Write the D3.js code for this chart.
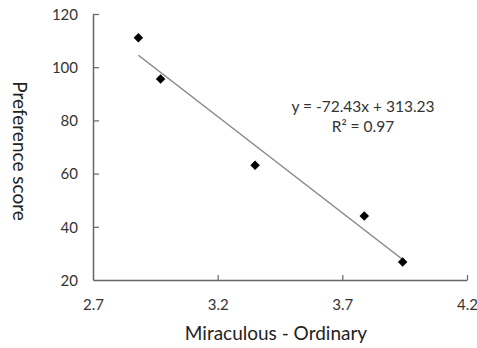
<!DOCTYPE html>
<html lang="en">
<head>
<meta charset="UTF-8"/>
<title>Preference score scatter</title>
<script src="https://cdn.jsdelivr.net/npm/d3@7"></script>
<style>
body { margin: 0; background: #fff; }
text { font-family: Lato, "Open Sans", sans-serif; fill: #222; }
.tick text { font-size: 15px; fill: #333; }
</style>
</head>
<body>
<svg id="viz"></svg>
<script>
// data
var xValues = [2.882, 2.971, 3.35, 3.788, 3.942];
var yValues = [111.1, 95.6, 63.1, 44.1, 26.8];
var xTicks = [2.7, 3.2, 3.7, 4.2];
var yTicks = [20, 40, 60, 80, 100, 120];
var slope = -72.43, intercept = 313.23;
var eqLabel = "y = -72.43x + 313.23";
var r2Label = "R\u00b2 = 0.97";

var width = 477, height = 348;
var svg = d3.select("#viz").attr("width", width).attr("height", height);

var x = d3.scaleLinear().domain([2.7, 4.2]).range([93, 467]);
var y = d3.scaleLinear().domain([20, 120]).range([280, 14]);

var axisColor = "#666";

// x axis, ticks point up into the plot
var gx = svg.append("g").attr("transform", "translate(0," + y(20) + ")")
  .call(d3.axisBottom(x).tickValues(xTicks).tickFormat(d3.format(".1f")).tickSizeInner(-5).tickSizeOuter(0).tickPadding(19));
// y axis, ticks point right into the plot
var gy = svg.append("g").attr("transform", "translate(" + x(2.7) + ",0)")
  .call(d3.axisLeft(y).tickValues(yTicks).tickSizeInner(-6).tickSizeOuter(0).tickPadding(15));

[gx, gy].forEach(function(g) {
  g.select(".domain").attr("stroke", axisColor).attr("stroke-width", 1.5);
  g.selectAll(".tick line").attr("stroke", axisColor).attr("stroke-width", 1.2);
  g.selectAll(".tick text").style("font-family", "Lato, 'Open Sans', sans-serif");
});
gy.selectAll(".tick text").attr("dy", "0.35em");
gy.selectAll(".tick").filter(function(d) { return d === 20; }).select("line").remove();
gx.selectAll(".tick").filter(function(d) { return d === 2.7; }).select("line").remove();

// trend line
var xMin = d3.min(xValues), xMax = d3.max(xValues);
svg.append("line")
  .attr("x1", x(xMin)).attr("y1", y(slope * xMin + intercept))
  .attr("x2", x(xMax)).attr("y2", y(slope * xMax + intercept))
  .attr("stroke", "#888").attr("stroke-width", 1.5);

// markers
var diamond = d3.symbol().type(d3.symbolDiamond2).size(58);
svg.append("g").selectAll("path")
  .data(d3.zip(xValues, yValues))
  .enter().append("path")
  .attr("d", diamond)
  .attr("transform", function(d) { return "translate(" + x(d[0]) + "," + y(d[1]) + ")"; })
  .attr("fill", "#000");

// equation
svg.append("text").attr("x", 363).attr("y", 112).attr("text-anchor", "middle")
  .style("font-size", "15.5px").style("fill", "#333").text(eqLabel);
svg.append("text").attr("x", 363).attr("y", 132).attr("text-anchor", "middle")
  .style("font-size", "15.5px").style("fill", "#333").text(r2Label);

// axis titles
svg.append("text").attr("x", 276).attr("y", 340).attr("text-anchor", "middle")
  .style("font-size", "19px").text("Miraculous - Ordinary");
svg.append("text").attr("transform", "translate(13,151) rotate(90)").attr("text-anchor", "middle")
  .style("font-size", "19px").text("Preference score");
</script>
</body>
</html>
